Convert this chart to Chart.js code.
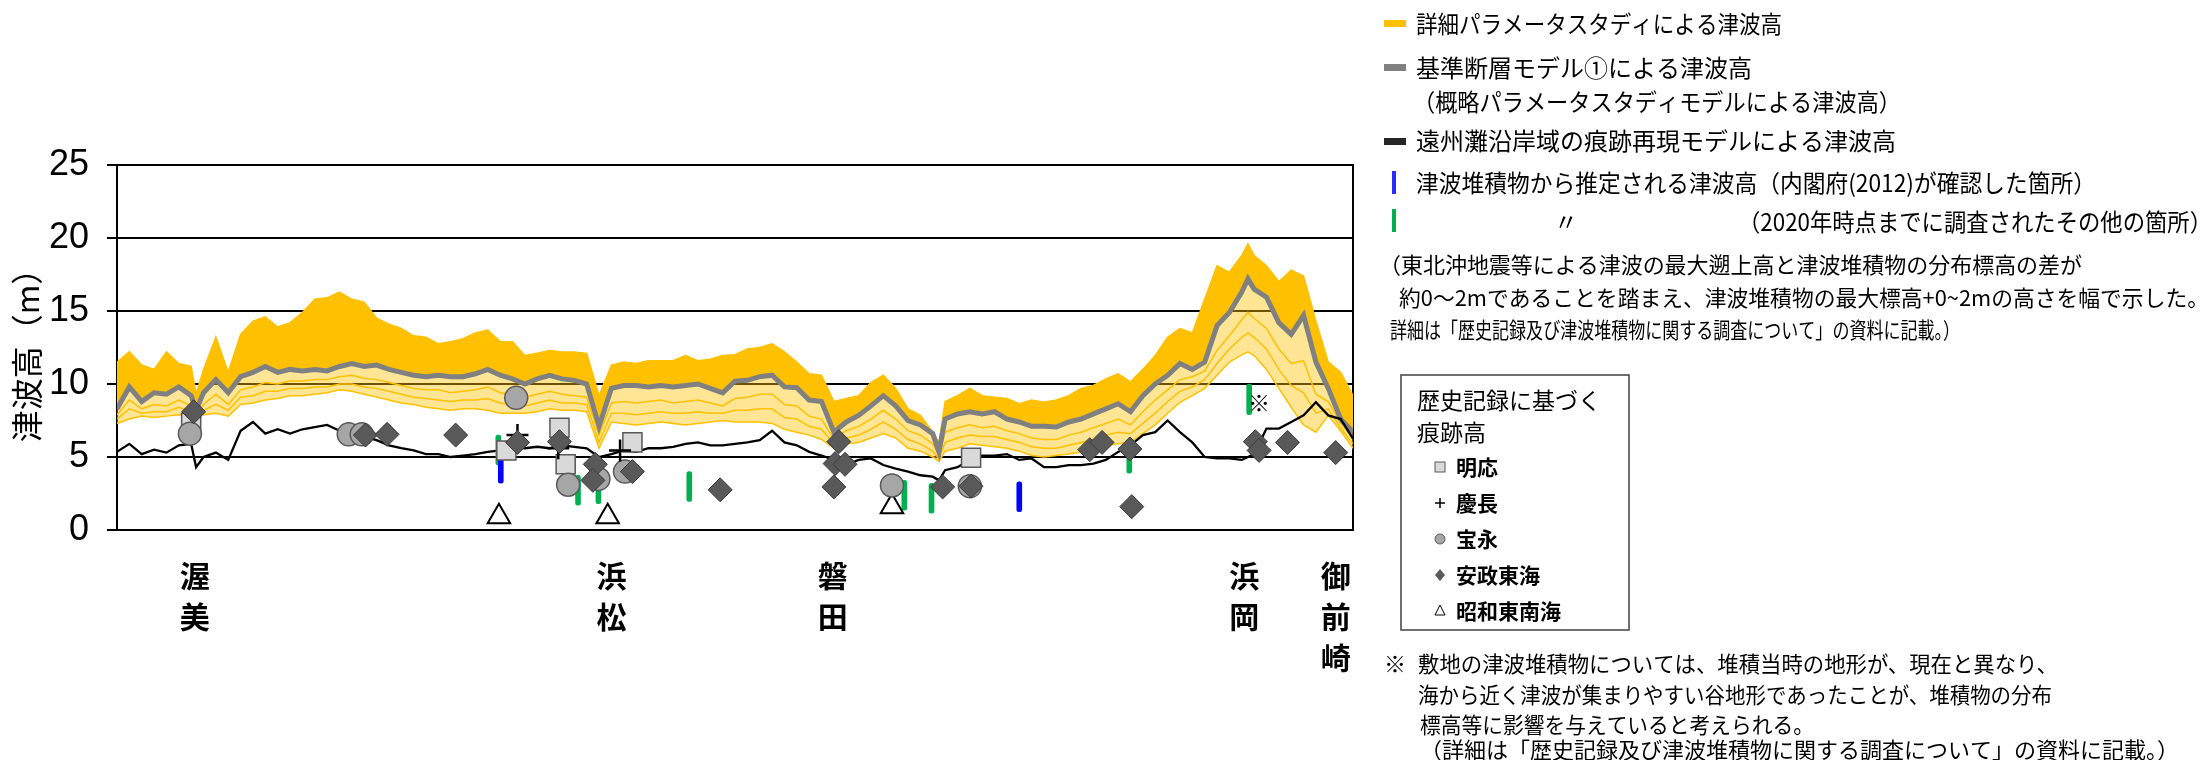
<!DOCTYPE html>
<html lang="ja">
<head>
<meta charset="UTF-8">
<title>津波高の比較</title>
<script src="https://cdn.jsdelivr.net/npm/chart.js"></script>
<style>
  html, body { margin: 0; padding: 0; background: #fff; }
  #wrap { width: 2212px; height: 760px; }
</style>
</head>
<body>
<div id="wrap"><canvas id="tsunamiChart" width="2212" height="760"></canvas></div>
<script>
// position along the coast (0 = left edge of plot, 100 = right edge)
const xs = [
  0, 1, 2, 3, 4, 5, 6, 6.4, 7, 8, 9,
  10, 11, 12, 13, 14, 15, 16, 17, 18, 19,
  20, 21, 22, 23, 24, 25, 26, 27, 28, 29,
  30, 31, 32, 33, 34, 35, 36, 37, 38, 39,
  40, 41, 42, 43, 44, 45, 46, 47, 48, 49,
  50, 51, 52, 53, 54, 55, 56, 57, 58, 59,
  60, 61, 62, 63, 64, 65, 66, 66.5, 67, 68, 69,
  70, 71, 72, 73, 74, 75, 76, 77, 78, 79,
  80, 81, 82, 83, 84, 85, 86, 87, 88, 89,
  90, 91, 91.5, 92, 93, 94, 95, 96, 97, 98, 99,
  100
];

// 基準断層モデル①による津波高
const baseModel = [
  8.3, 9.8, 8.8, 9.4, 9.3, 9.8, 9.2, 8.2, 9.4, 10.3, 9.4,
  10.5, 10.8, 11.2, 10.8, 11.0, 10.9, 11.0, 10.9, 11.2, 11.4,
  11.2, 11.3, 11.0, 10.8, 10.6, 10.5, 10.6, 10.5, 10.5, 10.7,
  11.0, 10.6, 10.35, 10.0, 10.35, 10.6, 10.35, 10.25, 10.0, 7.1,
  9.7, 9.9, 9.9, 9.8, 9.9, 9.8, 9.9, 10.0, 9.7, 9.4,
  10.2, 10.25, 10.5, 10.6, 9.8, 9.75, 8.9, 8.8, 6.7, 7.4,
  7.85, 8.5, 9.2, 8.5, 7.5, 7.2, 6.6, 5.35, 7.6, 7.95, 8.1,
  7.95, 8.1, 7.6, 7.4, 7.1, 7.1, 7.05, 7.4, 7.6, 7.95,
  8.3, 8.65, 8.1, 9.2, 10.0, 10.6, 11.4, 11.0, 11.5, 14.0,
  14.9, 16.3, 17.2, 16.5, 15.95, 14.2, 13.4, 14.7, 11.5, 9.7, 7.6,
  6.7
];

// 遠州灘沿岸域の痕跡再現モデルによる津波高
const traceModel = [
  5.35, 5.9, 5.2, 5.5, 5.3, 5.8, 5.9, 4.3, 5.0, 5.3, 4.8,
  6.8, 7.4, 6.6, 6.9, 6.6, 6.9, 7.05, 7.2, 6.8, 6.6,
  6.4, 6.15, 5.8, 5.6, 5.45, 5.2, 5.2, 5.0, 5.1, 5.2,
  5.35, 5.45, 5.7, 5.6, 5.7, 5.6, 5.8, 5.7, 5.6, 5.0,
  5.2, 5.45, 5.35, 5.6, 5.6, 5.7, 5.9, 6.0, 5.8, 5.8,
  5.9, 6.0, 6.15, 6.8, 6.0, 5.8, 5.35, 5.1, 4.8, 4.45,
  4.8, 4.9, 4.45, 4.2, 4.0, 3.75, 3.65, 3.4, 4.1, 4.3, 4.8,
  5.1, 5.1, 5.2, 4.8, 4.9, 4.3, 4.3, 4.45, 4.45, 4.55,
  4.8, 5.35, 5.8, 6.5, 6.7, 7.5, 6.7, 6.0, 5.0, 4.9,
  4.9, 4.8, 5.0, 5.2, 6.95, 6.95, 7.4, 7.85, 8.75, 7.85, 7.6,
  6.25
];

// 詳細パラメータスタディ: upper and lower edge of the band, plus two of the lower cases
const paramTop = [
  11.5, 12.2, 11.3, 11.0, 12.2, 11.4, 11.2, 9.3, 11.0, 13.2, 10.8,
  13.4, 14.3, 14.6, 13.9, 14.2, 14.9, 15.8, 15.9, 16.3, 15.8,
  15.6, 14.5, 14.1, 13.8, 13.3, 13.2, 12.75, 12.9, 13.1, 13.5,
  13.7, 12.9, 12.9, 11.95, 12.1, 12.3, 12.2, 12.2, 12.1, 9.2,
  11.3, 11.5, 11.4, 11.6, 11.6, 11.6, 11.95, 11.6, 11.7, 11.95,
  12.0, 12.4, 12.5, 12.75, 12.2, 11.5, 10.7, 10.6, 8.8, 9.0,
  9.2, 10.1, 10.6, 9.7, 8.3, 7.85, 6.7, 6.0, 8.8, 9.2, 9.7,
  9.2, 9.1, 9.0, 8.65, 8.9, 8.75, 8.9, 9.2, 9.7, 9.9,
  10.35, 10.7, 10.15, 11.0, 11.95, 13.2, 13.8, 13.5, 15.8, 18.1,
  17.65, 18.8, 19.6, 18.8, 18.1, 17.0, 17.8, 17.4, 14.3, 11.5, 10.8,
  9.2
];
const paramCaseA = [
  7.9, 8.9, 8.3, 8.6, 8.5, 8.9, 8.5, 7.9, 8.6, 9.3, 8.6,
  9.6, 9.8, 10.1, 10.0, 10.2, 10.2, 10.3, 10.3, 10.5, 10.6,
  10.4, 10.3, 10.1, 9.9, 9.7, 9.6, 9.6, 9.4, 9.5, 9.6,
  9.8, 9.4, 9.3, 9.1, 9.3, 9.5, 9.3, 9.2, 9.1, 6.5,
  8.7, 8.8, 8.7, 8.8, 8.9, 8.7, 8.8, 8.9, 8.7, 8.5,
  9.0, 9.1, 9.3, 9.3, 8.6, 8.5, 7.8, 7.6, 6.2, 6.8,
  7.1, 7.6, 8.2, 7.6, 6.8, 6.5, 5.9, 5.1, 6.7, 7.0, 7.2,
  7.0, 7.1, 6.8, 6.6, 6.3, 6.2, 6.2, 6.5, 6.7, 7.0,
  7.3, 7.6, 7.2, 8.1, 8.9, 9.6, 10.3, 10.5, 10.9, 12.3,
  13.3, 14.4, 14.9, 14.5, 13.8, 12.4, 11.4, 11.6, 9.3, 8.8, 7.3,
  6.3
];
const paramCaseB = [
  7.6, 8.3, 8.0, 8.1, 8.1, 8.4, 8.1, 7.8, 8.2, 8.6, 8.2,
  9.1, 9.2, 9.5, 9.5, 9.7, 9.7, 9.8, 9.8, 10.0, 10.0,
  9.8, 9.7, 9.5, 9.3, 9.1, 9.0, 8.9, 8.8, 8.9, 8.9,
  9.0, 8.7, 8.6, 8.5, 8.7, 8.9, 8.7, 8.7, 8.6, 6.0,
  8.0, 8.0, 7.9, 8.0, 8.1, 8.0, 8.0, 8.1, 8.0, 8.0,
  8.2, 8.2, 8.3, 8.3, 7.7, 7.6, 7.1, 6.9, 5.9, 6.3,
  6.5, 6.9, 7.4, 6.9, 6.2, 5.9, 5.4, 4.9, 6.0, 6.3, 6.5,
  6.4, 6.4, 6.2, 6.0, 5.7, 5.6, 5.6, 5.8, 6.0, 6.2,
  6.5, 6.7, 6.6, 7.3, 8.0, 8.8, 9.5, 9.8, 10.3, 11.4,
  12.4, 13.2, 13.5, 13.2, 12.4, 11.0, 9.9, 9.4, 8.0, 8.3, 7.0,
  5.9
];
const paramLow = [
  7.3, 7.6, 7.8, 7.7, 7.8, 7.9, 7.8, 7.7, 7.9, 8.0, 7.8,
  8.6, 8.7, 8.9, 9.0, 9.2, 9.2, 9.3, 9.4, 9.6, 9.5,
  9.3, 9.1, 8.9, 8.7, 8.6, 8.4, 8.3, 8.2, 8.3, 8.3,
  8.2, 8.0, 8.0, 8.0, 8.1, 8.3, 8.2, 8.2, 8.1, 5.6,
  7.4, 7.3, 7.2, 7.3, 7.4, 7.3, 7.2, 7.3, 7.4, 7.5,
  7.4, 7.4, 7.4, 7.3, 6.9, 6.7, 6.5, 6.2, 5.6, 5.9,
  6.0, 6.3, 6.6, 6.3, 5.6, 5.4, 5.0, 4.7, 5.4, 5.6, 5.9,
  5.8, 5.7, 5.6, 5.4, 5.1, 5.0, 5.1, 5.2, 5.35, 5.5,
  5.8, 5.9, 6.0, 6.6, 7.2, 8.0, 8.75, 9.2, 9.7, 10.6,
  11.5, 12.0, 12.2, 11.95, 11.0, 9.7, 8.4, 7.2, 6.7, 7.85, 6.8,
  5.6
];

// 歴史記録に基づく痕跡高
const meioX = [6.0, 31.5, 35.8, 36.3, 41.7, 69.1];
const meioY = [7.35, 5.45, 7.0, 4.5, 6.0, 4.95];
const keichoX = [32.4, 35.7, 40.7];
const keichoY = [6.5, 5.6, 5.45];
const hoeiX = [5.9, 18.75, 19.8, 32.3, 36.5, 38.95, 41.1, 62.7, 69.0];
const hoeiY = [6.6, 6.55, 6.55, 9.05, 3.1, 3.5, 4.0, 3.05, 3.0];
const anseiX = [6.2, 20.1, 21.85, 27.4, 32.4, 35.8, 38.7, 38.5, 41.7, 48.8, 58.4, 58.1,
  58.9, 58.0, 66.8, 69.1, 78.7, 79.7, 81.95, 82.1, 92.1, 92.4, 94.7, 98.6];
const anseiY = [8.1, 6.5, 6.55, 6.5, 6.0, 6.05, 4.5, 3.4, 4.0, 2.75, 6.05, 4.55,
  4.5, 2.95, 2.95, 3.0, 5.5, 6.0, 5.55, 1.6, 6.05, 5.45, 6.0, 5.3];
const showaX = [30.9, 39.7, 62.7];
const showaY = [0.9, 0.9, 1.6];

// 津波堆積物から推定される津波高 (range low-high)
const cabinetX = [31.05, 73.0];
const cabinetLow = [3.2, 1.25];
const cabinetHigh = [4.9, 3.3];
const otherX = [30.85, 37.3, 38.95, 46.3, 63.7, 65.9, 81.9, 91.6];
const otherLow = [4.45, 1.7, 1.8, 1.95, 1.35, 1.15, 3.9, 7.9];
const otherHigh = [6.5, 3.75, 3.8, 4.0, 3.4, 3.2, 5.9, 10.0];

const placeNames = ['渥美', '浜松', '磐田', '浜岡', '御前崎'];
const placeX = [6.3, 40.0, 57.9, 91.2, 98.6];
const yTicks = [0, 5, 10, 15, 20, 25];

const JP = '"Noto Sans CJK JP", sans-serif';
const YELLOW = '#FFC000';

const pts = (xa, ya) => xa.map((v, i) => ({ x: v, y: ya[i] }));
const ranges = (xa, lo, hi) => xa.map((v, i) => ({ x: v, y: [lo[i], hi[i]] }));

function marker(label, data, style, r, bg, border, bw, order) {
  return {
    type: 'scatter', label, data, order,
    pointStyle: style, pointRadius: r, pointHoverRadius: r,
    backgroundColor: bg, borderColor: border, pointBorderWidth: bw, borderWidth: bw
  };
}
function rangeBar(label, data, color, order) {
  return {
    type: 'bar', label, data, order, grouped: false,
    backgroundColor: color, borderWidth: 0, barThickness: 5,
    borderRadius: 3, borderSkipped: false
  };
}
function yellowCase(label, data, order) {
  return { label, data: pts(xs, data), order, borderColor: YELLOW, borderWidth: 1.5, pointRadius: 0, tension: 0 };
}

const datasets = [
  marker('安政東海', pts(anseiX, anseiY), 'rectRot', 12, '#595959', '#3a3a3a', 1, 0),
  marker('慶長', pts(keichoX, keichoY), 'cross', 11, '#000', '#000', 2.5, 1),
  marker('宝永', pts(hoeiX, hoeiY), 'circle', 11.5, '#a6a6a6', '#595959', 1.5, 2),
  marker('明応', pts(meioX, meioY), 'rect', 13.5, '#d9d9d9', '#595959', 1.5, 3),
  marker('昭和東南海', pts(showaX, showaY), 'triangle', 13, '#ffffff', '#000', 2, 4),
  rangeBar('内閣府(2012)', ranges(cabinetX, cabinetLow, cabinetHigh), '#0000ff', 5),
  rangeBar('その他', ranges(otherX, otherLow, otherHigh), '#00b050', 6),
  { label: '痕跡再現モデル', data: pts(xs, traceModel), order: 7,
    borderColor: '#000', borderWidth: 2.3, pointRadius: 0, tension: 0 },
  { label: '基準断層モデル①', data: pts(xs, baseModel), order: 8,
    borderColor: '#808080', borderWidth: 5, pointRadius: 0, tension: 0 },
  { label: '詳細パラメータスタディ上限', data: pts(xs, paramTop), order: 9,
    borderColor: YELLOW, borderWidth: 1.5, pointRadius: 0, tension: 0,
    fill: { target: 8 }, backgroundColor: YELLOW },
  { label: '詳細パラメータスタディ下限', data: pts(xs, paramLow), order: 10,
    borderColor: YELLOW, borderWidth: 1.5, pointRadius: 0, tension: 0,
    fill: { target: 8 }, backgroundColor: 'rgba(255, 192, 0, 0.42)' },
  yellowCase('ケースA', paramCaseA, 9.5),
  yellowCase('ケースB', paramCaseB, 9.6)
];

function txt(ctx, s, x, y, w, font, align) {
  ctx.font = font;
  ctx.textAlign = align || 'left';
  const nat = ctx.measureText(s).width;
  if (w && nat > w) ctx.fillText(s, x, y, w); else ctx.fillText(s, x, y);
}

const annotations = {
  id: 'annotations',
  afterDraw(chart) {
    const { ctx, scales: { x, y } } = chart;
    ctx.save();
    ctx.fillStyle = '#000';
    ctx.textBaseline = 'middle';

    // place names, written vertically under the axis
    placeNames.forEach((name, i) => {
      [...name].forEach((ch, j) => {
        txt(ctx, ch, x.getPixelForValue(placeX[i]), 576 + j * 41, 0, 'bold 30px ' + JP, 'center');
      });
    });
    // ※ inside the plot
    txt(ctx, '※', x.getPixelForValue(92.4), y.getPixelForValue(8.75), 0, '22px ' + JP, 'center');

    // series legend
    const F = '24px ' + JP;
    ctx.fillStyle = YELLOW; ctx.fillRect(1384, 20, 22, 7);
    ctx.fillStyle = '#808080'; ctx.fillRect(1384, 64, 22, 7);
    ctx.fillStyle = '#262626'; ctx.fillRect(1384, 138, 22, 7);
    ctx.fillStyle = '#2b2bff'; ctx.fillRect(1392, 171, 4, 23);
    ctx.fillStyle = '#00b050'; ctx.fillRect(1392, 209, 4, 23);
    ctx.fillStyle = '#000';
    txt(ctx, '詳細パラメータスタディによる津波高', 1416, 24, 366, F);
    txt(ctx, '基準断層モデル①による津波高', 1416, 68, 336, F);
    txt(ctx, '（概略パラメータスタディモデルによる津波高）', 1413, 102, 488, F);
    txt(ctx, '遠州灘沿岸域の痕跡再現モデルによる津波高', 1416, 141, 490, F);
    txt(ctx, '津波堆積物から推定される津波高（内閣府(2012)が確認した箇所）', 1416, 183, 680, F);
    txt(ctx, '〃', 1566, 222, 0, F, 'center');
    txt(ctx, '（2020年時点までに調査されたその他の箇所）', 1738, 222, 474, F);

    // note on deposits
    const N = '22px ' + JP;
    txt(ctx, '（東北沖地震等による津波の最大遡上高と津波堆積物の分布標高の差が', 1379, 265, 703, N);
    txt(ctx, '約0～2mであることを踏まえ、津波堆積物の最大標高+0~2mの高さを幅で示した。', 1399, 298, 810, N);
    txt(ctx, '詳細は「歴史記録及び津波堆積物に関する調査について」の資料に記載。）', 1390, 330, 570, N);

    // historical records box
    ctx.strokeStyle = '#404040'; ctx.lineWidth = 1.5;
    ctx.strokeRect(1401, 375, 228, 255);
    txt(ctx, '歴史記録に基づく', 1417, 400, 190, '23px ' + JP);
    txt(ctx, '痕跡高', 1417, 432, 0, '23px ' + JP);
    const items = ['明応', '慶長', '宝永', '安政東海', '昭和東南海'];
    const iy = [467, 503, 539, 575, 611];
    items.forEach((s, i) => txt(ctx, s, 1456, iy[i], 0, 'bold 21px ' + JP));
    const mx = 1440;
    ctx.lineWidth = 1;
    ctx.fillStyle = '#d9d9d9'; ctx.strokeStyle = '#595959';
    ctx.fillRect(mx - 5, iy[0] - 5, 10, 10); ctx.strokeRect(mx - 5, iy[0] - 5, 10, 10);
    ctx.strokeStyle = '#000'; ctx.lineWidth = 1.5;
    ctx.beginPath(); ctx.moveTo(mx - 5, iy[1]); ctx.lineTo(mx + 5, iy[1]);
    ctx.moveTo(mx, iy[1] - 5); ctx.lineTo(mx, iy[1] + 5); ctx.stroke();
    ctx.fillStyle = '#a6a6a6'; ctx.strokeStyle = '#595959'; ctx.lineWidth = 1;
    ctx.beginPath(); ctx.arc(mx, iy[2], 5, 0, Math.PI * 2); ctx.fill(); ctx.stroke();
    ctx.fillStyle = '#595959';
    ctx.beginPath(); ctx.moveTo(mx, iy[3] - 6); ctx.lineTo(mx + 5, iy[3]);
    ctx.lineTo(mx, iy[3] + 6); ctx.lineTo(mx - 5, iy[3]); ctx.closePath(); ctx.fill();
    ctx.strokeStyle = '#000'; ctx.fillStyle = '#fff';
    ctx.beginPath(); ctx.moveTo(mx, iy[4] - 6); ctx.lineTo(mx + 5, iy[4] + 4);
    ctx.lineTo(mx - 5, iy[4] + 4); ctx.closePath(); ctx.fill(); ctx.stroke();

    // footnote
    ctx.fillStyle = '#000';
    txt(ctx, '※', 1395, 664, 0, N, 'center');
    txt(ctx, '敷地の津波堆積物については、堆積当時の地形が、現在と異なり、', 1418, 664, 640, N);
    txt(ctx, '海から近く津波が集まりやすい谷地形であったことが、堆積物の分布', 1418, 695, 634, N);
    txt(ctx, '標高等に影響を与えていると考えられる。', 1420, 725, 394, N);
    txt(ctx, '（詳細は「歴史記録及び津波堆積物に関する調査について」の資料に記載。）', 1420, 750, 780, N);
    ctx.restore();
  }
};

new Chart(document.getElementById('tsunamiChart').getContext('2d'), {
  type: 'line',
  data: { datasets },
  options: {
    responsive: false,
    animation: false,
    events: [],
    layout: { padding: { left: 0, right: 859, top: 165, bottom: 230 } },
    plugins: { legend: { display: false }, tooltip: { enabled: false } },
    scales: {
      x: { type: 'linear', min: 0, max: 100, offset: false, display: false },
      y: {
        type: 'linear', min: 0, max: 25,
        afterBuildTicks: (s) => { s.ticks = yTicks.map(v => ({ value: v })); },
        ticks: { color: '#000', padding: 18, font: { family: '"Liberation Sans Narrow", "Liberation Sans", sans-serif', size: 36 } },
        grid: { color: '#000', lineWidth: 2, tickLength: 10 },
        border: { color: '#000', width: 2 },
        title: { display: true, text: '津波高（m）', color: '#000', padding: { top: 8, bottom: 0 },
                 font: { family: JP, size: 32 } },
        afterFit: (s) => { s.width = 117; }
      },
      yR: {
        type: 'linear', position: 'right', min: 0, max: 25,
        ticks: { display: false },
        grid: { display: false, drawTicks: false },
        border: { display: true, color: '#000', width: 2 },
        afterFit: (s) => { s.width = 0; }
      }
    }
  },
  plugins: [annotations]
});
</script>
</body>
</html>
